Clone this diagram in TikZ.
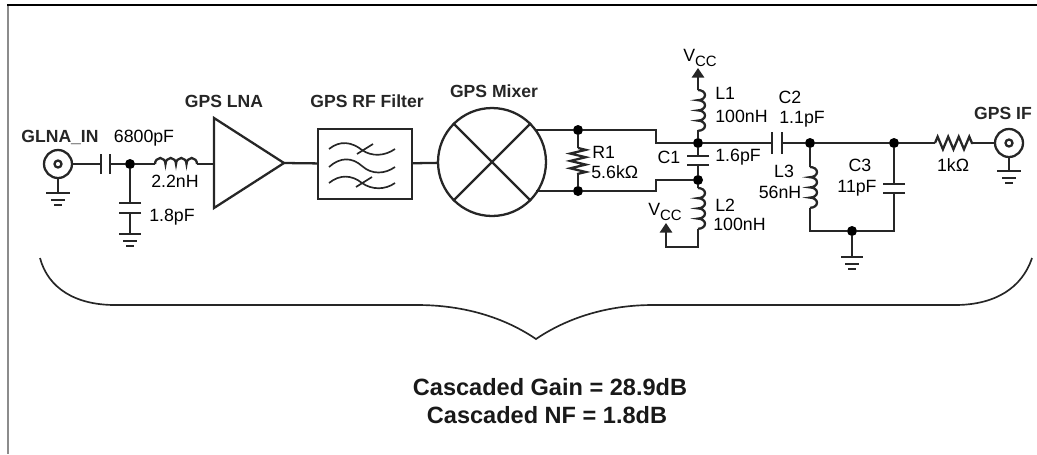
\documentclass[tikz,border=0pt]{standalone}
\usepackage{fontspec}
\setmainfont{Liberation Sans}
\usetikzlibrary{calc,arrows.meta,decorations.pathmorphing}
\def\groundbars(#1)(#2){\draw[wire] ($(#1)+(-#2,0)$) -- ($(#1)+(#2,0)$);
	\draw[wire] ($(#1)+(-7,7)$) -- ($(#1)+(7,7)$);
	\draw[wire] ($(#1)+(-4,12)$) -- ($(#1)+(4,12)$);}
\def\plates[#1](#2)(#3){\draw[wire] ($(#2)+(#1)$) -- ($(#2)-(#1)$); \draw[wire] ($(#3)+(#1)$) -- ($(#3)-(#1)$);}
\def\coildown(#1){\draw[wire] (#1) foreach \i in {1,2,3,4}{arc (-90:90:7 and 5.1)};}
\tikzset{
	wire/.style={line width=1.3pt, color=black!85},
	thinwire/.style={line width=0.95pt, color=black!85},
	junction/.style={circle, fill=black, inner sep=0pt, minimum size=0.2cm},
	lbl/.style={inner sep=0pt, text=black, font=\fontsize{10.1}{12}\selectfont},
	lblb/.style={lbl, text=black!85, font=\fontsize{10}{12}\selectfont\bfseries},
	sumlbl/.style={inner sep=0pt, text=black!90, font=\fontsize{13.4}{16}\selectfont\bfseries},
	vcctip/.style={-{Triangle[length=5.5pt,width=7pt]}},
	res/.style={decorate, decoration={zigzag, segment length=6pt, amplitude=3.6pt}}
}
\newcommand{\vcc}{V\raisebox{-2.5pt}{\fontsize{8.5}{10}\selectfont CC}}

\begin{document}
\begin{tikzpicture}[x=0.02cm, y=-0.02cm]
			%%%%% START %%%%%
			\useasboundingbox (0, 0) rectangle (1037, 454);
			
			\draw[line width=1.6pt, color=black!45] (8, 5) -- (8, 454);
			\draw[line width=1.6pt, color=black] (7, 5) -- (1037, 5);
			
			% input
			\node[circle, draw, wire, inner sep=0pt, minimum size=0.56cm] (inconn) at (58, 164) {};
			\node[circle, draw, wire, inner sep=0pt, minimum size=0.14cm] (inpin) at (58, 164) {};
			\coordinate (ingnd) at (58, 193);
			\draw[wire] (inconn) -- (ingnd);
			\groundbars(ingnd)(12);
			\coordinate (cinA) at (101, 164);
			\coordinate (cinB) at (110, 164);
			\plates[0,10](cinA)(cinB);
			\draw[wire] (inconn) -- (cinA);
			\node[junction] (ninput) at (130, 164) {};
			\draw[wire] (cinB) -- (ninput);
			\coordinate (lgA) at (155, 164);
			\coordinate (lgB) at (197, 164);
			\draw[wire] (ninput) -- (lgA);
			\draw[wire] (lgA) foreach \i in {1,2,3,4}{arc (180:360:5.25 and 6)};
			\coordinate (csA) at (130, 203);
			\coordinate (csB) at (130, 213);
			\coordinate (csgnd) at (130, 234);
			\plates[11,0](csA)(csB);
			\draw[wire] (ninput) -- (csA);
			\draw[wire] (csB) -- (csgnd);
			\groundbars(csgnd)(11);
			
			% lna, filter, mixer
			\coordinate (lnaT) at (214, 118);
			\coordinate (lnaB) at (214, 208);
			\coordinate (lnaO) at (284, 163);
			\coordinate (lnaI) at (214, 164);
			\draw[wire] (lnaT) -- (lnaO) -- (lnaB) -- cycle;
			\draw[wire] (lgB) -- (lnaI);
			
			\node[draw, wire, inner sep=0pt, minimum width=1.88cm, minimum height=1.4cm] (filter) at (365, 164) {};
			\draw[wire] (lnaO) -- (filter);
			\draw[thinwire] (329, 149) .. controls (340, 140) and (352, 142) .. (362, 150) .. controls (372, 157) and (385, 156) .. (395, 149);
			\draw[thinwire] (329, 167) .. controls (340, 157) and (352, 157) .. (362, 166) .. controls (372, 175) and (385, 174) .. (395, 167);
			\draw[thinwire] (329, 183) .. controls (340, 174) and (352, 175) .. (362, 183) .. controls (372, 190) and (385, 190) .. (395, 183);
			\draw[thinwire] (357, 154) -- (373, 144);
			\draw[thinwire] (356, 187) -- (372, 177);
			
			\node[circle, draw, wire, inner sep=0pt, minimum size=2.16cm] (mixer) at (492, 162) {};
			\draw[wire] (filter) -- (mixer);
			\draw[wire] (mixer.45) -- (mixer.225);
			\draw[wire] (mixer.135) -- (mixer.315);
			
			% output of the mixer
			\coordinate (mixU) at (536, 130);
			\coordinate (mixL) at (536, 191);
			\node[junction] (ntop) at (578, 130) {};
			\node[junction] (nbot) at (578, 191) {};
			\coordinate (r1A) at (578, 148);
			\coordinate (r1B) at (578, 174);
			\draw[wire] (mixU) -- (ntop);
			\draw[wire] (mixL) -- (nbot);
			\draw[wire] (ntop) -- (r1A);
			\draw[wire] (r1B) -- (nbot);
			\draw[wire, res, decoration={segment length=4.2pt, amplitude=4.4pt}] (r1A) -- (r1B);
			\node[junction] (nc1t) at (698, 143) {};
			\node[junction] (nc1b) at (698, 180) {};
			\draw[wire] (ntop) -| (656, 143) -- (nc1t);
			\draw[wire] (nbot) -| (656, 180) -- (nc1b);
			\coordinate (c1A) at (698, 156);
			\coordinate (c1B) at (698, 165);
			\plates[11,0](c1A)(c1B);
			\draw[wire] (nc1t) -- (c1A);
			\draw[wire] (c1B) -- (nc1b);
			
			% L1
			\coordinate (vcctop) at (698, 68);
			\coordinate (l1A) at (698, 90);
			\coordinate (l1B) at (698, 130);
			\draw[wire, vcctip] (l1A) -- (vcctop);
			\coildown(l1A);
			\draw[wire] (l1B) -- (nc1t);
			
			% L2
			\coordinate (l2A) at (698, 188);
			\coordinate (l2B) at (698, 229);
			\coordinate (vccbot) at (666, 223);
			\draw[wire] (nc1b) -- (l2A);
			\coildown(l2A);
			\draw[wire, vcctip] (l2B) |- (666, 247) -- (vccbot);
			
			% C2 and L3
			\coordinate (c2A) at (772, 143);
			\coordinate (c2B) at (782, 143);
			\plates[0,11](c2A)(c2B);
			\draw[wire] (nc1t) -- (c2A);
			\node[junction] (nl3) at (810, 143) {};
			\draw[wire] (c2B) -- (nl3);
			\coordinate (l3A) at (810, 167);
			\coordinate (l3B) at (810, 208);
			\draw[wire] (nl3) -- (l3A);
			\coildown(l3A);
			
			% C3 and ground
			\node[junction] (nc3) at (894, 143) {};
			\draw[wire] (nl3) -- (nc3);
			\coordinate (c3A) at (894, 184);
			\coordinate (c3B) at (894, 193);
			\plates[11,0](c3A)(c3B);
			\draw[wire] (nc3) -- (c3A);
			\node[junction] (ngnd) at (852, 231) {};
			\draw[wire] (l3B) |- (ngnd);
			\draw[wire] (c3B) |- (ngnd);
			\coordinate (outgnd) at (852, 257);
			\draw[wire] (ngnd) -- (outgnd);
			\groundbars(outgnd)(11);
			
			% output
			\coordinate (r2A) at (935, 143);
			\coordinate (r2B) at (973, 143);
			\draw[wire] (nc3) -- (r2A);
			\draw[wire, res] (r2A) -- (r2B);
			\node[circle, draw, wire, inner sep=0pt, minimum size=0.56cm] (outconn) at (1009, 143) {};
			\node[circle, draw, wire, inner sep=0pt, minimum size=0.14cm] (outpin) at (1009, 143) {};
			\draw[wire] (r2B) -- (outconn);
			\coordinate (ogndb) at (1009, 171);
			\draw[wire] (outconn) -- (ogndb);
			\groundbars(ogndb)(12);
			
			% brace
			\draw[thinwire] (40, 258) .. controls (48, 288) and (75, 305) .. (115, 305) -- (417, 305) .. controls (465, 305) and (505, 318) .. (536, 339) .. controls (567, 318) and (607, 305) .. (653, 305) -- (955, 305) .. controls (995, 305) and (1022, 288) .. (1032, 258);
			
			% labels
			\node[lblb] (tglna) at (60, 137) {GLNA\_IN};
			\node[lbl] (tcin) at (144, 138) {6800pF};
			\node[lbl] (tlg) at (175, 181) {2.2nH};
			\node[lbl] (tcs) at (172, 217) {1.8pF};
			\node[lblb] (tlna) at (224, 101) {GPS LNA};
			\node[lblb] (tfilter) at (367, 101) {GPS RF Filter};
			\node[lblb] (tmixer) at (494, 91) {GPS Mixer};
			\node[lbl] (tvcct) at (700, 58) {\vcc};
			\node[lbl, anchor=west] (tl1) at (715, 93) {L1};
			\node[lbl, anchor=west] (tl1v) at (715, 116) {100nH};
			\node[lbl, anchor=west] (tr1) at (592, 152) {R1};
			\node[lbl, anchor=west] (tr1v) at (591, 172) {5.6kΩ};
			\node[lbl] (tc1) at (669, 157) {C1};
			\node[lbl, anchor=west] (tc1v) at (715, 157) {1.6pF};
			\node[lbl] (tvccb) at (665, 212) {\vcc};
			\node[lbl, anchor=west] (tl2) at (715, 205) {L2};
			\node[lbl, anchor=west] (tl2v) at (713, 224) {100nH};
			\node[lbl] (tc2) at (790, 97) {C2};
			\node[lbl, anchor=west] (tc2v) at (779, 119) {1.1pF};
			\node[lbl] (tl3) at (784, 171) {L3};
			\node[lbl] (tl3v) at (780, 192) {56nH};
			\node[lbl] (tc3) at (860, 165) {C3};
			\node[lbl] (tc3v) at (857, 188) {11pF};
			\node[lbl] (tr2) at (953, 165) {1kΩ};
			\node[lblb] (tif) at (1003, 113) {GPS IF};
			\node[sumlbl] (tgain) at (550, 387) {Cascaded Gain = 28.9dB};
			\node[sumlbl] (tnf) at (547, 415) {Cascaded NF = 1.8dB};
			
			%%%%% END %%%%%
		\end{tikzpicture}
\end{document}
